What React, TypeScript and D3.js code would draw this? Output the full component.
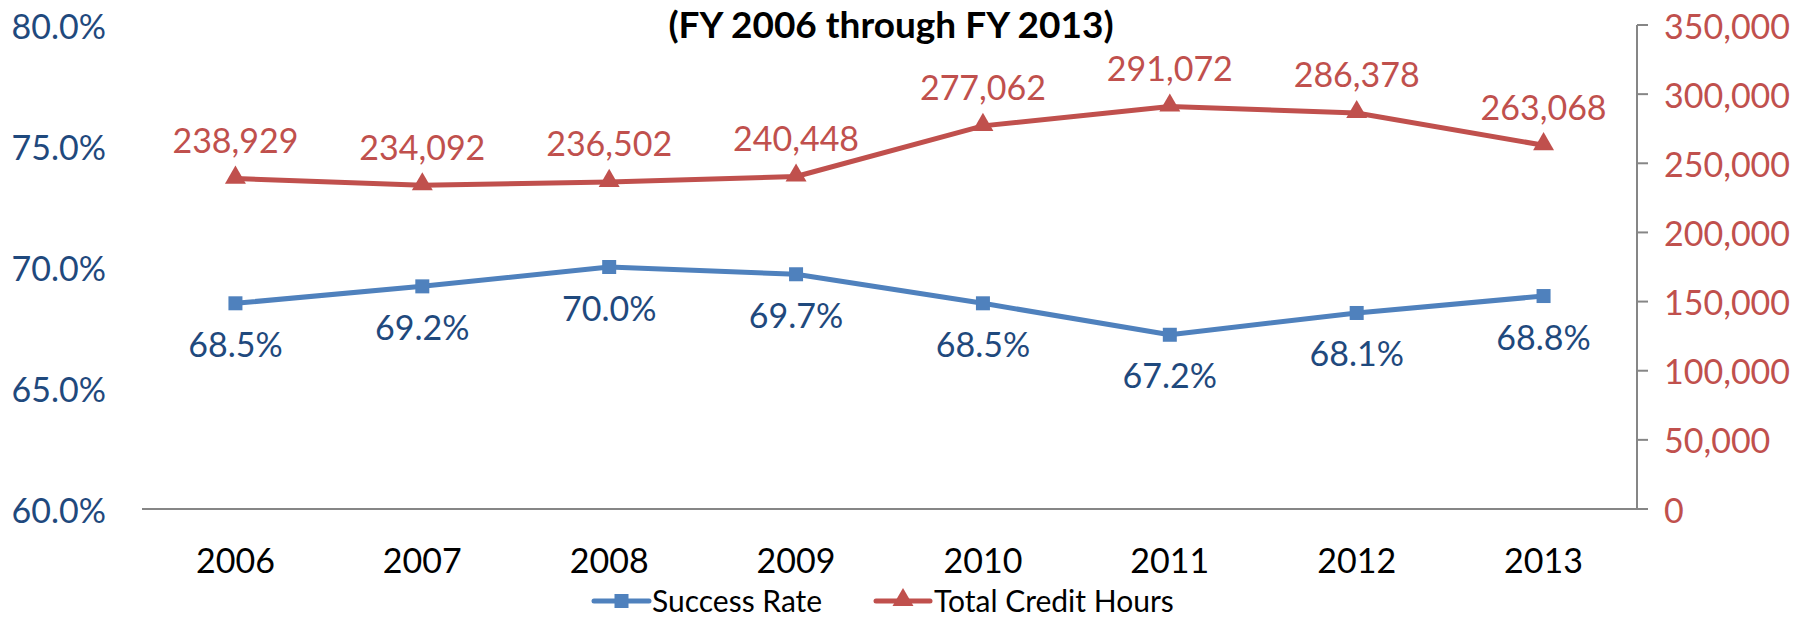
import React from "react";
import * as d3 from "d3";

const years = ["2006", "2007", "2008", "2009", "2010", "2011", "2012", "2013"];
const successRate = [68.5, 69.2, 70.0, 69.7, 68.5, 67.2, 68.1, 68.8];
const creditHours = [238929, 234092, 236502, 240448, 277062, 291072, 286378, 263068];
const leftTicks = [60, 65, 70, 75, 80];
const rightTicks = [0, 50000, 100000, 150000, 200000, 250000, 300000, 350000];
const titleText = "(FY 2006 through FY 2013)";
const seriesNames = ["Success Rate", "Total Credit Hours"];

const W = 1800;
const H = 620;
const FONT = "Lato, 'Open Sans', sans-serif";
const BLUE = "#4F81BD";
const DARKBLUE = "#1F497D";
const RED = "#C0504D";
const AXIS = "#868686";

export default function App() {
  const left = 142, right = 1637, top = 25, bottom = 509;
  const x = d3.scaleBand<string>().domain(years).range([left, right]);
  const cx = (d: string) => (x(d) as number) + x.bandwidth() / 2;
  const yL = d3.scaleLinear().domain([60, 80]).range([bottom, top]);
  const yR = d3.scaleLinear().domain([0, 350000]).range([bottom, top]);
  const fmtPct = (v: number) => v.toFixed(1) + "%";
  const fmtNum = d3.format(",");

  const blueLine = d3.line<number>().x((_, i) => cx(years[i])).y((d) => yL(d))(successRate) as string;
  const redLine = d3.line<number>().x((_, i) => cx(years[i])).y((d) => yR(d))(creditHours) as string;
  const tri = d3.symbol().type(d3.symbolTriangle).size(190)() as string;
  const FS = 34;

  return (
    <svg width={W} height={H} style={{ position: "absolute", left: 0, top: 0, background: "#fff" }} fontFamily={FONT}>
      <text x={891} y={23} textAnchor="middle" dominantBaseline="central" fontSize={37} fontWeight="bold" fill="#000">
        {titleText}
      </text>
      {/* left axis labels */}
      {leftTicks.map((t) => (
        <text key={t} x={106} y={yL(t)} textAnchor="end" dominantBaseline="central" fontSize={FS} fill={DARKBLUE}>
          {fmtPct(t)}
        </text>
      ))}
      {/* right axis */}
      <line x1={right} x2={right} y1={top} y2={bottom} stroke={AXIS} strokeWidth={2} />
      {rightTicks.map((t) => (
        <g key={t}>
          <line x1={right} x2={right + 11} y1={yR(t)} y2={yR(t)} stroke={AXIS} strokeWidth={2} />
          <text x={1664} y={yR(t)} dominantBaseline="central" fontSize={FS} fill={RED}>
            {fmtNum(t)}
          </text>
        </g>
      ))}
      {/* bottom axis */}
      <line x1={left} x2={right} y1={bottom} y2={bottom} stroke={AXIS} strokeWidth={2} />
      {years.map((yr) => (
        <text key={yr} x={cx(yr)} y={559} textAnchor="middle" dominantBaseline="central" fontSize={FS} fill="#000">
          {yr}
        </text>
      ))}
      {/* lines */}
      <path d={redLine} fill="none" stroke={RED} strokeWidth={5} strokeLinejoin="round" />
      <path d={blueLine} fill="none" stroke={BLUE} strokeWidth={5} strokeLinejoin="round" />
      {creditHours.map((v, i) => (
        <path key={"rm" + i} d={tri} transform={`translate(${cx(years[i])},${yR(v) - 1})`} fill={RED} />
      ))}
      {successRate.map((v, i) => (
        <rect key={"bm" + i} x={cx(years[i]) - 7} y={yL(v) - 7} width={14} height={14} fill={BLUE} />
      ))}
      {/* data labels */}
      {creditHours.map((v, i) => (
        <text key={"rl" + i} x={cx(years[i])} y={yR(v) - 39} textAnchor="middle" dominantBaseline="central" fontSize={FS} fill={RED}>
          {fmtNum(v)}
        </text>
      ))}
      {successRate.map((v, i) => (
        <text key={"bl" + i} x={cx(years[i])} y={yL(v) + 40} textAnchor="middle" dominantBaseline="central" fontSize={FS} fill={DARKBLUE}>
          {fmtPct(v)}
        </text>
      ))}
      {/* legend */}
      <g>
        <line x1={594} x2={649} y1={601} y2={601} stroke={BLUE} strokeWidth={5} strokeLinecap="round" />
        <rect x={614.5} y={594} width={14} height={14} fill={BLUE} />
        <text x={652} y={600} dominantBaseline="central" fontSize={30} fill="#000">{seriesNames[0]}</text>
        <line x1={876} x2={930} y1={601} y2={601} stroke={RED} strokeWidth={5} strokeLinecap="round" />
        <path d={tri} transform="translate(903,600)" fill={RED} />
        <text x={934} y={600} dominantBaseline="central" fontSize={30} fill="#000">{seriesNames[1]}</text>
      </g>
    </svg>
  );
}
